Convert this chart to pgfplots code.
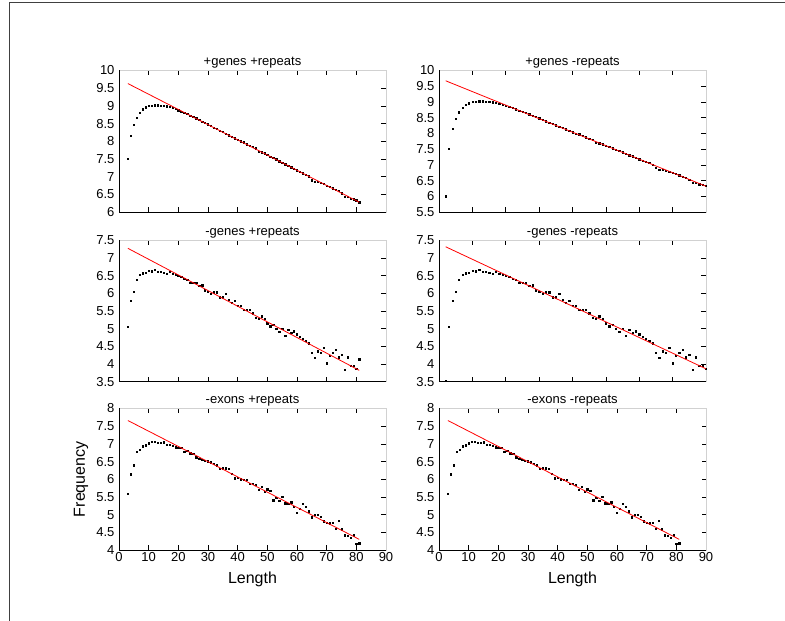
\documentclass[border=0pt]{standalone}
\usepackage{pgfplots}
\usepackage{pgfplotstable}
\pgfplotsset{compat=1.18}
\usepackage{fontspec}
\setmainfont{Liberation Sans}

% frequency vs. length, genes included
\pgfplotstableread{
x y
2 6.00
3 7.51
4 8.16
5 8.47
6 8.67
7 8.81
8 8.91
9 8.96
10 9.00
11 9.01
12 9.02
13 9.02
14 9.01
15 9.01
16 8.99
17 8.97
18 8.95
19 8.92
20 8.88
21 8.84
22 8.81
23 8.77
24 8.73
25 8.70
26 8.65
27 8.61
28 8.56
29 8.52
30 8.48
31 8.43
32 8.39
33 8.35
34 8.30
35 8.26
36 8.22
37 8.17
38 8.13
39 8.09
40 8.04
41 8.00
42 7.97
43 7.92
44 7.88
45 7.84
46 7.80
47 7.71
48 7.69
49 7.66
50 7.61
51 7.57
52 7.53
53 7.49
54 7.44
55 7.40
56 7.35
57 7.31
58 7.27
59 7.22
60 7.18
61 7.13
62 7.10
63 7.06
64 7.01
65 6.90
66 6.85
67 6.85
68 6.82
69 6.79
70 6.75
71 6.71
72 6.67
73 6.63
74 6.60
75 6.53
76 6.43
77 6.43
78 6.38
79 6.36
80 6.33
81 6.28
}\genesdata

% frequency vs. length, genes removed
\pgfplotstableread{
x y
2 3.52
3 5.05
4 5.79
5 6.05
6 6.38
7 6.53
8 6.57
9 6.58
10 6.63
11 6.62
12 6.66
13 6.60
14 6.61
15 6.58
16 6.55
17 6.61
18 6.55
19 6.53
20 6.49
21 6.46
22 6.41
23 6.38
24 6.29
25 6.29
26 6.30
27 6.22
28 6.23
29 6.09
30 6.04
31 5.99
32 6.03
33 6.03
34 5.89
35 5.89
36 5.98
37 5.82
38 5.73
39 5.79
40 5.64
41 5.64
42 5.54
43 5.54
44 5.53
45 5.44
46 5.30
47 5.28
48 5.35
49 5.29
50 5.15
51 5.07
52 5.12
53 4.99
54 4.91
55 4.99
56 4.81
57 4.97
58 4.89
59 4.93
60 4.84
61 4.77
62 4.71
63 4.66
64 4.59
65 4.32
66 4.17
67 4.36
68 4.32
69 4.46
70 4.02
71 4.23
72 4.32
73 4.40
74 4.19
75 4.26
76 3.84
77 4.19
78 3.95
79 3.96
80 3.86
81 4.14
}\nogenesdata

% frequency vs. length, exons removed
\pgfplotstableread{
x y
3 5.59
4 6.14
5 6.40
6 6.77
7 6.84
8 6.93
9 6.96
10 7.02
11 7.07
12 7.06
13 7.04
14 7.04
15 7.05
16 6.97
17 6.97
18 6.95
19 6.91
20 6.89
21 6.89
22 6.78
23 6.80
24 6.74
25 6.72
26 6.62
27 6.58
28 6.55
29 6.52
30 6.51
31 6.48
32 6.44
33 6.40
34 6.29
35 6.31
36 6.31
37 6.29
38 6.15
39 6.03
40 6.04
41 6.00
42 5.99
43 5.99
44 5.88
45 5.87
46 5.84
47 5.70
48 5.79
49 5.65
50 5.72
51 5.68
52 5.41
53 5.47
54 5.39
55 5.50
56 5.32
57 5.30
58 5.35
59 5.22
60 5.06
61 5.16
62 5.31
63 5.23
64 5.10
65 4.93
66 5.00
67 4.99
68 4.95
69 4.81
70 4.77
71 4.76
72 4.78
73 4.61
74 4.82
75 4.59
76 4.42
77 4.41
78 4.34
79 4.42
80 4.18
81 4.19
}\noexonsdata

\tikzset{axframe/.style={black, line width=0.8pt}}
\pgfplotsset{
  panel/.style={
    scale only axis, width=267pt, height=141.5pt, anchor=south west,
    xmin=0,
    tick align=inside, major tick length=4.5pt,
    ytick pos=right, yticklabel pos=left,
    xtick pos=both, xticklabel pos=lower,
    axis line style={black!18, line width=0.5pt},
    tick style={black, line width=0.6pt},
    tick label style={font=\fontsize{13}{14}\selectfont},
    yticklabel style={xshift=-1pt},
    xticklabel style={yshift=1pt},
    /pgf/number format/assume math mode=true,
    title style={font=\fontsize{13}{15}\selectfont, at={(0.5,1)}, anchor=south, inner sep=0pt, yshift=-4pt},
    clip mode=individual,
  },
  dots/.style={only marks, mark=square*, mark size=0.65pt, black},
  fit/.style={red, line width=0.8pt, no marks},
}

\begin{document}
\begin{tikzpicture}
\useasboundingbox (0pt,0pt) rectangle (785pt,621pt);
\draw[line width=0.9pt, black!75] (9pt,0pt) -- (9pt,618.3pt) -- (785pt,618.3pt);

% top row
\begin{axis}[panel, at={(119pt,409pt)}, xmax=90, ymin=6, ymax=10,
  xtick={0,10,...,90}, xticklabels={}, ytick={6,6.5,...,10},
  title={+genes +repeats}]
  \addplot[dots, restrict x to domain=2.5:90] table[x=x,y=y] {\genesdata};
  \addplot[fit] coordinates {(3,9.630) (81,6.276)};
  \draw[axframe] (rel axis cs:0,1) -- (rel axis cs:0,0) -- (rel axis cs:1,0);
\end{axis}
\begin{axis}[panel, at={(439pt,409pt)}, xmax=80, ymin=5.5, ymax=10,
  xtick={0,10,...,80}, xticklabels={}, ytick={5.5,6,...,10},
  title={+genes -repeats}]
  \addplot[dots] table[x=x,y=y] {\genesdata};
  \addplot[fit] coordinates {(2,9.673) (81,6.276)};
  \draw[axframe] (rel axis cs:0,1) -- (rel axis cs:0,0) -- (rel axis cs:1,0);
\end{axis}

% middle row
\begin{axis}[panel, at={(119pt,239.3pt)}, xmax=90, ymin=3.5, ymax=7.5,
  xtick={0,10,...,90}, xticklabels={}, ytick={3.5,4,...,7.5},
  title={-genes +repeats}]
  \addplot[dots, restrict x to domain=2.5:90] table[x=x,y=y] {\nogenesdata};
  \addplot[fit] coordinates {(3,7.27) (81,3.82)};
  \draw[axframe] (rel axis cs:0,1) -- (rel axis cs:0,0) -- (rel axis cs:1,0);
\end{axis}
\begin{axis}[panel, at={(439pt,239.3pt)}, xmax=80, ymin=3.5, ymax=7.5,
  xtick={0,10,...,80}, xticklabels={}, ytick={3.5,4,...,7.5},
  title={-genes -repeats}]
  \addplot[dots] table[x=x,y=y] {\nogenesdata};
  \addplot[fit] coordinates {(2,7.314) (81,3.82)};
  \draw[axframe] (rel axis cs:0,1) -- (rel axis cs:0,0) -- (rel axis cs:1,0);
\end{axis}

% bottom row
\begin{axis}[panel, at={(119pt,71pt)}, xmax=90, ymin=4, ymax=8,
  xtick={0,10,...,90}, ytick={4,4.5,...,8},
  title={-exons +repeats},
  xlabel={Length}, ylabel={Frequency},
  xlabel style={font=\fontsize{16}{18}\selectfont, at={(rel axis cs:0.5,-0.205)}, anchor=center},
  ylabel style={font=\fontsize{16}{18}\selectfont, at={(rel axis cs:-0.142,0.5)}, anchor=center}]
  \addplot[dots] table[x=x,y=y] {\noexonsdata};
  \addplot[fit] coordinates {(3,7.66) (81,4.30)};
  \draw[axframe] (rel axis cs:0,1) -- (rel axis cs:0,0) -- (rel axis cs:1,0);
\end{axis}
\begin{axis}[panel, at={(439pt,71pt)}, xmax=90, ymin=4, ymax=8,
  xtick={0,10,...,90}, ytick={4,4.5,...,8},
  title={-exons -repeats},
  xlabel={Length},
  xlabel style={font=\fontsize{16}{18}\selectfont, at={(rel axis cs:0.5,-0.205)}, anchor=center}]
  \addplot[dots] table[x=x,y=y] {\noexonsdata};
  \addplot[fit] coordinates {(3,7.66) (81,4.30)};
  \draw[axframe] (rel axis cs:0,1) -- (rel axis cs:0,0) -- (rel axis cs:1,0);
\end{axis}
\end{tikzpicture}
\end{document}
